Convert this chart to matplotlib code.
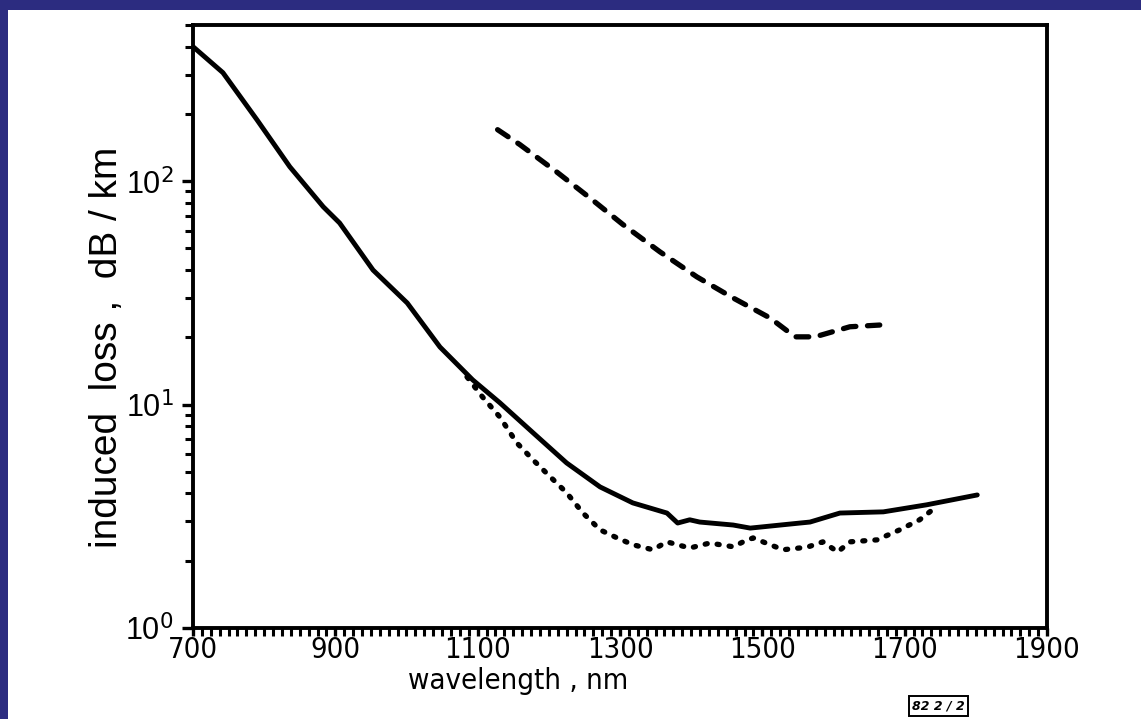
import matplotlib
matplotlib.use("Agg")
import matplotlib.pyplot as plt
from matplotlib.ticker import MultipleLocator, LogLocator, NullFormatter, FixedLocator
from matplotlib.patches import Rectangle

# ---- data ----
solid_wl = [700, 742, 790, 836, 883, 906, 953, 1001, 1047, 1093,
            1131, 1178, 1225, 1272, 1318, 1366, 1381, 1398, 1412, 1459, 1483, 1553,
            1567, 1609, 1670, 1731, 1802]
solid_loss = [400, 306, 188, 116, 76.8, 65, 40, 28.5, 18.1, 12.9,
              10.2, 7.47, 5.48, 4.28, 3.63, 3.27, 2.95, 3.05, 2.98, 2.89, 2.80, 2.95,
              2.98, 3.27, 3.31, 3.56, 3.94]

dotted_wl = [1085, 1107, 1131, 1155, 1178, 1202, 1225, 1248, 1272, 1296, 1318, 1346,
             1366, 1398, 1426, 1459, 1473, 1487, 1529, 1563, 1585, 1606, 1623, 1661,
             1693, 1721, 1740]
dotted_loss = [13.3, 10.8, 8.81, 6.74, 5.65, 4.75, 4.03, 3.27, 2.75, 2.53, 2.36, 2.24,
               2.43, 2.28, 2.40, 2.31, 2.43, 2.53, 2.24, 2.30, 2.43, 2.19, 2.43, 2.48,
               2.75, 3.05, 3.40]

dashed_wl = [1128, 1159, 1211, 1258, 1304, 1356, 1408, 1459, 1511, 1546, 1574, 1623, 1665]
dashed_loss = [170, 146, 110, 84, 64, 48.3, 37.3, 30.0, 24.4, 20.1, 20.1, 22.3, 22.7]

x_ticks = [700, 900, 1100, 1300, 1500, 1700, 1900]
y_ticks = [1, 10, 100]
y_tick_labels = ["10$^{0}$", "10$^{1}$", "10$^{2}$"]

W, H = 1141, 719
fig = plt.figure(figsize=(W / 100, H / 100), dpi=100)
fig.patch.set_facecolor("#2c2c80")
# white scanned panel
fig.patches.append(Rectangle((8 / W, 0), 1 - 8 / W, 1 - 10 / H, transform=fig.transFigure,
                             facecolor="white", edgecolor="none", zorder=-5))

ax = fig.add_axes([193 / W, 1 - 628 / H, (1047 - 193) / W, (628 - 25) / H])
ax.set_zorder(1)
ax.set_facecolor("white")

ax.plot(solid_wl, solid_loss, color="black", lw=3.5, solid_capstyle="round",
        solid_joinstyle="round")
ax.plot(dotted_wl, dotted_loss, color="black", lw=3.8, linestyle=(0, (0.4, 1.9)),
        dash_capstyle="round")
ax.plot(dashed_wl, dashed_loss, color="black", lw=3.8, linestyle=(0, (2.4, 2.2)),
        dash_capstyle="round")

ax.set_yscale("log")
ax.set_xlim(700, 1900)
ax.set_ylim(1, 500)

for s in ax.spines.values():
    s.set_linewidth(2.8)
    s.set_color("black")

narrow = dict(family="DejaVu Sans", fontstretch="condensed")

ax.xaxis.set_major_locator(FixedLocator(x_ticks))
ax.xaxis.set_minor_locator(MultipleLocator(12.5))
ax.set_xticklabels([str(v) for v in x_ticks], fontsize=21, **narrow)
ax.yaxis.set_major_locator(FixedLocator(y_ticks))
ax.yaxis.set_minor_locator(LogLocator(base=10, subs=range(2, 10)))
ax.yaxis.set_minor_formatter(NullFormatter())
ax.set_yticklabels(y_tick_labels, fontsize=22, family="Liberation Sans")

ax.tick_params(axis="both", which="major", direction="out", length=8, width=2.4, color="black")
ax.tick_params(axis="both", which="minor", direction="out", length=6, width=2.2, color="black")
ax.tick_params(axis="x", which="both", length=6)
ax.tick_params(axis="x", which="major", pad=0)
ax.tick_params(axis="y", which="major", pad=6)

ax.set_xlabel("wavelength , nm", fontsize=21, **narrow)
ax.xaxis.set_label_coords((518 - 193) / 854, -(667 - 628) / 603)
ax.set_ylabel("induced  loss ,  dB / km", fontsize=28, family="Liberation Sans")
ax.yaxis.set_label_coords(-(193 - 125) / 854, (628 - 347) / 603)

fig.text(938 / W, 1 - 706 / H, "82 2 / 2", fontsize=9, fontweight="bold", style="italic",
         ha="center", va="center", zorder=5,
         bbox=dict(boxstyle="square,pad=0.25", facecolor="white", edgecolor="black", lw=1.4))

fig.savefig("out.png", dpi=100, facecolor=fig.get_facecolor())
